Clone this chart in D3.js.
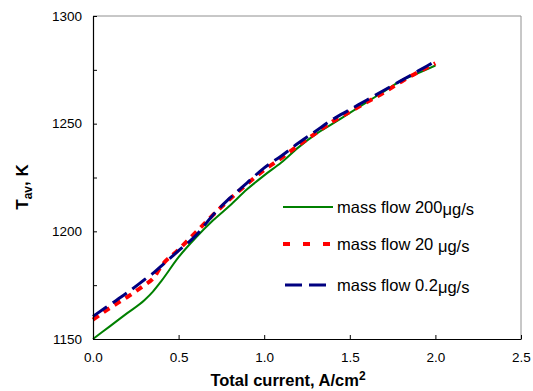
<!DOCTYPE html>
<html>
<head>
<meta charset="utf-8">
<script src="https://cdn.jsdelivr.net/npm/d3@7"></script>
<style>
body { margin: 0; background: #fff; }
text { font-family: "Liberation Sans", Arial, sans-serif; }
</style>
</head>
<body>
<div id="chart"></div>
<script>
// x values, A/cm2
var current = [0, 0.1, 0.2, 0.3, 0.35, 0.4, 0.5, 0.6, 0.7, 0.8, 0.9, 1.0, 1.1, 1.2, 1.3, 1.4, 1.5, 1.6, 1.7, 1.8, 1.9, 2.0];
// T_av, K for each mass flow
var flow200 = [1150, 1156, 1162, 1168, 1172, 1177, 1188, 1197, 1205, 1212, 1219.5, 1226, 1232, 1239, 1245, 1250, 1255, 1260, 1265, 1270, 1273.5, 1277];
var flow20  = [1159, 1164.5, 1169.5, 1175, 1178, 1184, 1191.5, 1199.5, 1207.5, 1215, 1222, 1228.5, 1234, 1240, 1245.5, 1251, 1255.5, 1260, 1264.5, 1269.5, 1274, 1278];
var flow02  = [1160.5, 1166, 1171.5, 1177.5, 1180.5, 1184, 1191, 1198, 1207.5, 1215.5, 1222.5, 1229.5, 1235, 1241, 1246.5, 1252, 1256.5, 1261, 1265.5, 1270, 1274.5, 1279];

var xTicks = [0, 0.5, 1.0, 1.5, 2.0, 2.5];
var yTicks = [1150, 1200, 1250, 1300];
var yMinor = [1150, 1175, 1200, 1225, 1250, 1275, 1300];

var seriesList = [
    {label: "mass flow 200", unit: "\u03bcg/s", values: flow200, color: "#008000", width: 2, dash: null},
    {label: "mass flow 20 ", unit: "\u03bcg/s", values: flow20, color: "#ff0000", width: 4, dash: "7,6"},
    {label: "mass flow 0.2", unit: "\u03bcg/s", values: flow02, color: "#000080", width: 3, dash: "17,7"}
];

var W = 533, H = 391;
var plot = {left: 93, top: 16, right: 521, bottom: 339};

var svg = d3.select("#chart").append("svg")
    .attr("width", W)
    .attr("height", H);

var x = d3.scaleLinear().domain([0, 2.5]).range([plot.left, plot.right]);
var y = d3.scaleLinear().domain([1150, 1300]).range([plot.bottom, plot.top]);

// plot frame, top/right gray
svg.append("line").attr("x1", plot.left).attr("x2", plot.right).attr("y1", plot.top).attr("y2", plot.top)
    .attr("stroke", "#909090").attr("stroke-width", 1);
svg.append("line").attr("x1", plot.right).attr("x2", plot.right).attr("y1", plot.top).attr("y2", plot.bottom)
    .attr("stroke", "#909090").attr("stroke-width", 1);

var line = d3.line()
    .x(function(d, i){ return x(current[i]); })
    .y(function(d){ return y(d); })
    .curve(d3.curveMonotoneX);

seriesList.forEach(function(s){
    svg.append("path")
        .attr("d", line(s.values))
        .attr("fill", "none")
        .attr("stroke", s.color)
        .attr("stroke-width", s.width)
        .attr("stroke-dasharray", s.dash);
});

// axes, ticks pointing inward
var xAxis = svg.append("g")
    .attr("transform", "translate(0," + plot.bottom + ")")
    .call(d3.axisBottom(x).tickValues(xTicks).tickSizeInner(-4).tickSizeOuter(0).tickPadding(12)
        .tickFormat(d3.format(".1f")));
var yAxis = svg.append("g")
    .attr("transform", "translate(" + plot.left + ",0)")
    .call(d3.axisLeft(y).tickValues(yMinor).tickSizeInner(-4).tickSizeOuter(0).tickPadding(11)
        .tickFormat(function(d){ return yTicks.indexOf(d) >= 0 ? d : ""; }));

[xAxis, yAxis].forEach(function(a){
    a.select(".domain").attr("stroke", "#000").attr("stroke-width", 1.2);
    a.selectAll(".tick line").attr("stroke", "#000");
    a.selectAll(".tick text")
        .attr("font-family", "Liberation Sans, Arial, sans-serif")
        .attr("font-size", 13.5)
        .attr("fill", "#000");
});
xAxis.selectAll(".tick text").attr("dy", "0.85em");

// axis titles
var xTitle = svg.append("text")
    .attr("x", 288)
    .attr("y", 386)
    .attr("text-anchor", "middle")
    .attr("font-size", 16.5)
    .attr("font-weight", "bold");
xTitle.append("tspan").text("Total current, A/cm");
xTitle.append("tspan").attr("dy", -6).attr("font-size", 12).text("2");

var yTitle = svg.append("text")
    .attr("transform", "translate(28,187) rotate(-90)")
    .attr("text-anchor", "middle")
    .attr("font-size", 17)
    .attr("font-weight", "bold");
yTitle.append("tspan").text("T");
yTitle.append("tspan").attr("dy", 4).attr("font-size", 12).text("av");
yTitle.append("tspan").attr("dy", -4).text(", K");

// legend
var legendY = [207, 244, 285];
var legend = svg.append("g").selectAll("g")
    .data(seriesList)
    .enter()
    .append("g")
    .attr("transform", function(d, i){ return "translate(283," + legendY[i] + ")"; });

legend.append("line")
    .attr("x1", function(d, i){ return i === 2 ? 2 : 0; })
    .attr("x2", function(d, i){ return i === 2 ? 43 : 50; })
    .attr("y1", 0).attr("y2", 0)
    .attr("stroke", function(d){ return d.color; })
    .attr("stroke-width", function(d){ return d.width; })
    .attr("stroke-dasharray", function(d, i){ return i === 1 ? "7,13" : d.dash; });

var lt = legend.append("text")
    .attr("x", 54)
    .attr("y", 6)
    .attr("font-size", 16.5)
    .attr("fill", "#000")
    .attr("xml:space", "preserve")
    .style("white-space", "pre");
lt.append("tspan").text(function(d){ return d.label; });
lt.append("tspan").attr("dy", 2).text(function(d){ return d.unit; });
</script>
</body>
</html>
